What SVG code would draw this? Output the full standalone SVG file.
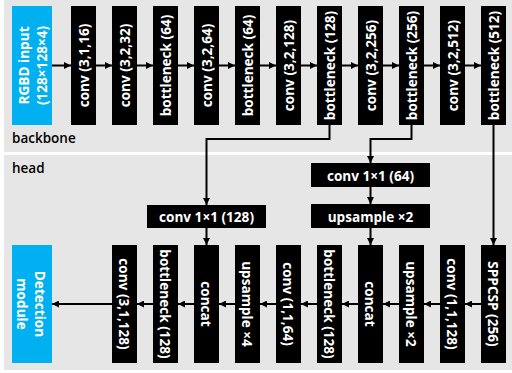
<svg xmlns="http://www.w3.org/2000/svg" width="512" height="373" viewBox="0 0 512 373">
<defs>
<marker id="ah" viewBox="0 0 10 10" refX="10" refY="5" markerWidth="7" markerHeight="7" markerUnits="userSpaceOnUse" orient="auto"><path d="M0,0 L10,5 L0,10 z" fill="#000"/></marker>
<style>
.panel{fill:#e6e6e6}
.blk{fill:#000}
.blue{fill:#00b0f0}
.t{font-family:"Open Sans","Noto Sans","Liberation Sans",sans-serif;font-weight:700;font-size:13.6px;fill:#fff;text-anchor:middle;dominant-baseline:central}
.lab{font-family:"Open Sans","Noto Sans","Liberation Sans",sans-serif;font-weight:600;font-size:13.5px;fill:#000}
.c{fill:none;stroke:#000;stroke-width:2}
.a{marker-end:url(#ah)}
</style>
</defs>
<rect x="0" y="0" width="512" height="373" fill="#fff"/>
<rect class="panel" x="4" y="0" width="508" height="152"/>
<rect class="panel" x="4" y="155" width="508" height="215"/>
<text class="lab" x="12" y="143">backbone</text>
<text class="lab" x="12" y="173">head</text>

<g id="connectors">
<line class="c a" x1="52" y1="65.5" x2="71" y2="65.5"/>
<line class="c a" x1="96" y1="65.5" x2="112" y2="65.5"/>
<line class="c a" x1="137" y1="65.5" x2="153" y2="65.5"/>
<line class="c a" x1="178" y1="65.5" x2="194" y2="65.5"/>
<line class="c a" x1="219" y1="65.5" x2="235" y2="65.5"/>
<line class="c a" x1="260" y1="65.5" x2="276" y2="65.5"/>
<line class="c a" x1="301" y1="65.5" x2="317" y2="65.5"/>
<line class="c a" x1="342" y1="65.5" x2="358" y2="65.5"/>
<line class="c a" x1="383" y1="65.5" x2="399" y2="65.5"/>
<line class="c a" x1="424" y1="65.5" x2="440" y2="65.5"/>
<line class="c a" x1="465" y1="65.5" x2="481" y2="65.5"/>
<polyline class="c a" points="329.5,125 329.5,139 206.5,139 206.5,205"/>
<polyline class="c a" points="411.5,125 411.5,139 370.5,139 370.5,163"/>
<line class="c a" x1="493.5" y1="125" x2="493.5" y2="245"/>
<line class="c a" x1="370.5" y1="187" x2="370.5" y2="204"/>
<line class="c a" x1="370.5" y1="228" x2="370.5" y2="245"/>
<line class="c a" x1="206.5" y1="228" x2="206.5" y2="245"/>
<line class="c a" x1="481" y1="304" x2="465" y2="304"/>
<line class="c a" x1="440" y1="304" x2="424" y2="304"/>
<line class="c a" x1="399" y1="304" x2="383" y2="304"/>
<line class="c a" x1="358" y1="304" x2="342" y2="304"/>
<line class="c a" x1="317" y1="304" x2="301" y2="304"/>
<line class="c a" x1="276" y1="304" x2="260" y2="304"/>
<line class="c a" x1="235" y1="304" x2="219" y2="304"/>
<line class="c a" x1="194" y1="304" x2="178" y2="304"/>
<line class="c a" x1="153" y1="304" x2="137" y2="304"/>
<line class="c a" x1="112" y1="304" x2="52" y2="304"/>
</g>

<g id="rgbd-input"><rect class="blue" x="12" y="6" width="40" height="119"/><text class="t" transform="translate(32,65.5) rotate(-90)"><tspan x="0" y="-9">RGBD input</tspan><tspan x="0" y="9">(128×128×4)</tspan></text></g>
<g id="b1"><rect class="blk" x="71" y="6" width="25" height="119"/><text class="t" transform="translate(83.5,65.5) rotate(-90)">conv (3,1,16)</text></g>
<g id="b2"><rect class="blk" x="112" y="6" width="25" height="119"/><text class="t" transform="translate(124.5,65.5) rotate(-90)">conv (3,2,32)</text></g>
<g id="b3"><rect class="blk" x="153" y="6" width="25" height="119"/><text class="t" transform="translate(165.5,65.5) rotate(-90)">bottleneck (64)</text></g>
<g id="b4"><rect class="blk" x="194" y="6" width="25" height="119"/><text class="t" transform="translate(206.5,65.5) rotate(-90)">conv (3,2,64)</text></g>
<g id="b5"><rect class="blk" x="235" y="6" width="25" height="119"/><text class="t" transform="translate(247.5,65.5) rotate(-90)">bottleneck (64)</text></g>
<g id="b6"><rect class="blk" x="276" y="6" width="25" height="119"/><text class="t" transform="translate(288.5,65.5) rotate(-90)">conv (3,2,128)</text></g>
<g id="b7"><rect class="blk" x="317" y="6" width="25" height="119"/><text class="t" transform="translate(329.5,65.5) rotate(-90)">bottleneck (128)</text></g>
<g id="b8"><rect class="blk" x="358" y="6" width="25" height="119"/><text class="t" transform="translate(370.5,65.5) rotate(-90)">conv (3,2,256)</text></g>
<g id="b9"><rect class="blk" x="399" y="6" width="25" height="119"/><text class="t" transform="translate(411.5,65.5) rotate(-90)">bottleneck (256)</text></g>
<g id="b10"><rect class="blk" x="440" y="6" width="25" height="119"/><text class="t" transform="translate(452.5,65.5) rotate(-90)">conv (3,2,512)</text></g>
<g id="b11"><rect class="blk" x="481" y="6" width="25" height="119"/><text class="t" transform="translate(493.5,65.5) rotate(-90)">bottleneck (512)</text></g>

<g id="h-conv64"><rect class="blk" x="311" y="163" width="119" height="24"/><text class="t" x="370.5" y="175">conv 1×1 (64)</text></g>
<g id="h-up2a"><rect class="blk" x="311" y="204" width="119" height="24"/><text class="t" x="370.5" y="216">upsample ×2</text></g>
<g id="h-conv128"><rect class="blk" x="147" y="205" width="119" height="23"/><text class="t" x="206.5" y="216.5">conv 1×1 (128)</text></g>

<g id="h-sppcsp"><rect class="blk" x="481" y="245" width="25" height="118"/><text class="t" transform="translate(493.5,304) rotate(90)">SPPCSP (256)</text></g>
<g id="h-conv11128"><rect class="blk" x="440" y="245" width="25" height="118"/><text class="t" transform="translate(452.5,304) rotate(90)">conv (1,1,128)</text></g>
<g id="h-up2b"><rect class="blk" x="399" y="245" width="25" height="118"/><text class="t" transform="translate(411.5,304) rotate(90)">upsample ×2</text></g>
<g id="h-concat1"><rect class="blk" x="358" y="245" width="25" height="118"/><text class="t" transform="translate(370.5,304) rotate(90)">concat</text></g>
<g id="h-bn128a"><rect class="blk" x="317" y="245" width="25" height="118"/><text class="t" transform="translate(329.5,304) rotate(90)">bottleneck (128)</text></g>
<g id="h-conv1164"><rect class="blk" x="276" y="245" width="25" height="118"/><text class="t" transform="translate(288.5,304) rotate(90)">conv (1,1,64)</text></g>
<g id="h-up4"><rect class="blk" x="235" y="245" width="25" height="118"/><text class="t" transform="translate(247.5,304) rotate(90)">upsample ×4</text></g>
<g id="h-concat2"><rect class="blk" x="194" y="245" width="25" height="118"/><text class="t" transform="translate(206.5,304) rotate(90)">concat</text></g>
<g id="h-bn128b"><rect class="blk" x="153" y="245" width="25" height="118"/><text class="t" transform="translate(165.5,304) rotate(90)">bottleneck (128)</text></g>
<g id="h-conv31128"><rect class="blk" x="112" y="245" width="25" height="118"/><text class="t" transform="translate(124.5,304) rotate(90)">conv (3,1,128)</text></g>
<g id="detection"><rect class="blue" x="12" y="245" width="40" height="118"/><text class="t" transform="translate(32,304) rotate(90)"><tspan x="0" y="-9">Detection</tspan><tspan x="0" y="9">module</tspan></text></g>
</svg>
